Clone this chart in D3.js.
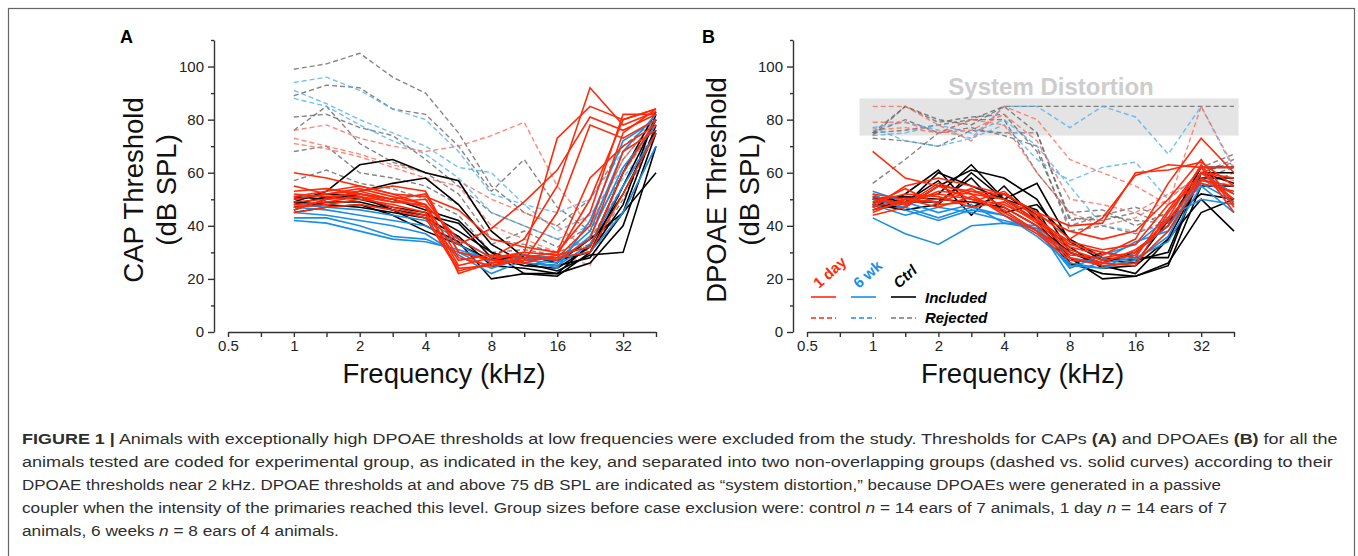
<!DOCTYPE html>
<html><head><meta charset="utf-8">
<script src="https://cdn.jsdelivr.net/npm/d3@7"></script>
<style>
html,body{margin:0;padding:0;background:#fff;}
svg{display:block;font-family:"Liberation Sans",Arial,sans-serif;}
</style></head>
<body><svg id="fig" width="1358" height="556"></svg>
<script>
// ---------- DATA ----------
const freqs = [1, 1.41, 2, 2.83, 4, 5.66, 8, 11.3, 16, 22.6, 32, 45.25];
const xTicks = [0.5, 1, 2, 4, 8, 16, 32];
const xMinorTicks = [0.707, 1.41, 2.83, 5.66, 11.3, 22.6, 45.25];
const yTicks = [0, 20, 40, 60, 80, 100];
const yMinorTicks = [10, 30, 50, 70, 90, 110];
const groupNames = ["1 day", "6 wk", "Ctrl"];
const statusNames = ["Included", "Rejected"];

// Panel A – CAP thresholds
const capCtrlIncluded = [
  [49, 53, 63, 65, 60, 57, 38, 28, 27, 30, 55, 80],
  [46, 50, 53, 56, 58, 48, 33, 26, 25, 28, 45, 78],
  [48, 51, 50, 47, 45, 38, 30, 22, 22, 26, 40, 75],
  [50, 52, 51, 46, 40, 34, 20, 22, 21, 30, 48, 82],
  [47, 49, 49, 46, 44, 41, 28, 25, 24, 32, 60, 83],
  [45, 47, 48, 44, 38, 33, 27, 29, 26, 35, 45, 60],
  [51, 50, 52, 50, 46, 42, 30, 26, 23, 29, 30, 70],
  [49, 48, 47, 45, 43, 36, 25, 24, 22, 33, 52, 76]
];
const capDay1Included = [
  [50, 52, 54, 51, 48, 35, 28, 35, 55, 92, 78, 83],
  [46, 50, 53, 50, 47, 25, 28, 30, 73, 85, 80, 84],
  [52, 51, 52, 49, 50, 33, 39, 49, 61, 81, 76, 82],
  [60, 58, 55, 52, 48, 22, 26, 27, 45, 78, 73, 80],
  [48, 49, 51, 47, 44, 24, 25, 28, 30, 58, 70, 78],
  [47, 48, 50, 48, 45, 27, 29, 28, 28, 40, 75, 84],
  [53, 54, 52, 50, 52, 30, 27, 30, 29, 32, 60, 80],
  [45, 47, 48, 46, 43, 23, 26, 29, 27, 35, 68, 76],
  [51, 53, 55, 52, 51, 46, 35, 32, 30, 45, 82, 82],
  [49, 50, 51, 49, 48, 28, 25, 27, 28, 30, 52, 75],
  [55, 52, 53, 55, 53, 30, 27, 26, 29, 50, 80, 84]
];
const capWk6Included = [
  [42, 41, 38, 35, 34, 31, 27, 26, 25, 33, 55, 75],
  [43, 43, 40, 36, 35, 30, 24, 28, 27, 38, 68, 82],
  [45, 44, 42, 40, 37, 29, 22, 27, 26, 36, 62, 78],
  [47, 46, 44, 42, 40, 33, 26, 28, 24, 42, 72, 80],
  [48, 47, 46, 44, 42, 35, 28, 29, 28, 30, 45, 70]
];
const capCtrlRejected = [
  [99, 101, 105, 96, 90, 75, 55, 45, 40, 50, 70, 80],
  [89, 93, 92, 84, 82, 70, 53, 65, 47, 38, 60, 78],
  [81, 82, 77, 74, 65, 55, 45, 40, 35, 30, 50, 75],
  [76, 85, 71, 64, 60, 52, 35, 33, 30, 35, 55, 76],
  [68, 70, 60, 58, 55, 48, 33, 38, 32, 40, 65, 80],
  [57, 61, 56, 54, 50, 44, 30, 31, 29, 33, 45, 70]
];
const capWk6Rejected = [
  [94, 96, 91, 84, 80, 68, 52, 48, 45, 50, 68, 80],
  [91, 86, 80, 75, 70, 62, 60, 48, 38, 44, 62, 78],
  [88, 85, 78, 72, 67, 58, 45, 40, 35, 40, 58, 75]
];
const capDay1Rejected = [
  [76, 78, 73, 70, 68, 70, 74, 79, 55, 40, 65, 80],
  [73, 70, 67, 63, 60, 57, 50, 45, 40, 30, 60, 78],
  [71, 69, 66, 62, 58, 55, 40, 35, 30, 25, 55, 76]
];

// Panel B – DPOAE thresholds
const dpCtrlIncluded = [
  [48, 47, 55, 61, 58, 50, 30, 25, 22, 35, 50, 38],
  [50, 48, 60, 55, 50, 46, 26, 22, 21, 25, 55, 55],
  [47, 52, 61, 47, 52, 44, 28, 20, 21, 26, 45, 50],
  [49, 49, 49, 58, 45, 48, 35, 28, 27, 30, 60, 56],
  [46, 50, 52, 63, 50, 42, 32, 24, 25, 35, 58, 58],
  [51, 49, 57, 44, 55, 42, 25, 30, 28, 28, 60, 60],
  [48, 46, 48, 60, 50, 56, 34, 27, 26, 42, 52, 50],
  [50, 51, 50, 49, 47, 40, 30, 26, 30, 40, 62, 62]
];
const dpDay1Included = [
  [68, 58, 55, 53, 52, 45, 35, 43, 59, 63, 62, 62],
  [47, 55, 58, 55, 52, 45, 40, 41, 60, 61, 64, 55],
  [45, 50, 52, 50, 48, 42, 32, 29, 35, 56, 73, 60],
  [50, 48, 53, 52, 50, 44, 38, 35, 38, 50, 65, 48],
  [52, 50, 47, 51, 45, 38, 30, 26, 25, 45, 60, 50],
  [46, 49, 50, 54, 47, 40, 29, 28, 30, 42, 58, 52],
  [48, 54, 48, 49, 53, 43, 33, 30, 28, 46, 62, 45],
  [44, 47, 55, 50, 46, 38, 28, 25, 26, 38, 57, 55],
  [49, 52, 51, 47, 49, 41, 31, 27, 29, 43, 63, 47],
  [51, 48, 56, 52, 44, 37, 27, 26, 31, 40, 60, 58],
  [47, 50, 49, 53, 50, 42, 34, 31, 33, 48, 56, 53]
];
const dpWk6Included = [
  [53, 49, 45, 48, 41, 40, 21, 27, 34, 38, 58, 50],
  [43, 37, 33, 40, 41, 39, 24, 29, 33, 43, 50, 48],
  [52, 46, 42, 46, 44, 36, 26, 24, 27, 36, 60, 52],
  [48, 44, 47, 45, 42, 39, 28, 26, 28, 34, 55, 45],
  [50, 47, 43, 47, 44, 38, 25, 24, 30, 40, 56, 49]
];
const dpCtrlRejected = [
  [74, 85, 80, 78, 85, 85, 85, 85, 85, 85, 85, 85],
  [56, 65, 75, 80, 80, 60, 45, 46, 40, 45, 60, 64],
  [75, 76, 78, 80, 85, 75, 42, 44, 42, 41, 62, 67],
  [75, 85, 79, 81, 82, 68, 40, 44, 47, 43, 55, 60],
  [73, 72, 70, 76, 75, 75, 43, 42, 45, 40, 58, 62],
  [75, 80, 75, 77, 74, 70, 38, 40, 37, 42, 60, 65]
];
const dpWk6Rejected = [
  [77, 79, 76, 73, 85, 85, 77, 85, 81, 67, 85, 61],
  [77, 72, 70, 73, 78, 65, 57, 62, 64, 50, 60, 58],
  [74, 75, 78, 75, 80, 70, 55, 40, 38, 40, 55, 55]
];
const dpDay1Rejected = [
  [85, 85, 78, 72, 85, 80, 65, 60, 55, 48, 85, 62],
  [79, 79, 75, 80, 78, 60, 45, 40, 43, 50, 60, 57],
  [76, 77, 75, 76, 82, 72, 50, 48, 45, 52, 58, 55]
];
const distortionBand = [74, 88];        // dB SPL
const distortionFreqs = [0.87, 47.5];    // kHz

const captionLines = [
  [["b","FIGURE 1 |"],["r"," Animals with exceptionally high DPOAE thresholds at low frequencies were excluded from the study. Thresholds for CAPs "],["b","(A)"],["r"," and DPOAEs "],["b","(B)"],["r"," for all the"]],
  [["r","animals tested are coded for experimental group, as indicated in the key, and separated into two non-overlapping groups (dashed vs. solid curves) according to their"]],
  [["r","DPOAE thresholds near 2 kHz. DPOAE thresholds at and above 75 dB SPL are indicated as \u201csystem distortion,\u201d because DPOAEs were generated in a passive"]],
  [["r","coupler when the intensity of the primaries reached this level. Group sizes before case exclusion were: control "],["i","n"],["r"," = 14 ears of 7 animals, 1 day "],["i","n"],["r"," = 14 ears of 7"]],
  [["r","animals, 6 weeks "],["i","n"],["r"," = 8 ears of 4 animals."]]
];
const captionWidths = [1316, 1312, 1200, 1206, null];

// ---------- STYLE ----------
const solidColor = {ctrl: "#000000", day1: "#ff2a0a", wk6: "#1a8fe6"};
const dashColor  = {ctrl: "#666666", day1: "#ff6a5a", wk6: "#4fb0f2"};

const svg = d3.select("#fig");
svg.append("rect").attr("x",8.5).attr("y",8.5).attr("width",1346).attr("height",600)
  .attr("fill","none").attr("stroke","#666").attr("stroke-width",1.2);

function buildSeries(ci, di, wi, cr, dr, wr){
  const out = [];
  cr.forEach(v=>out.push({g:"ctrl",inc:false,v}));
  wr.forEach(v=>out.push({g:"wk6",inc:false,v}));
  dr.forEach(v=>out.push({g:"day1",inc:false,v}));
  ci.forEach(v=>out.push({g:"ctrl",inc:true,v}));
  wi.forEach(v=>out.push({g:"wk6",inc:true,v}));
  di.forEach(v=>out.push({g:"day1",inc:true,v}));
  return out;
}

function drawPanel(o){
  const x = d3.scaleLog().domain([0.5, 45.25]).range(o.xr);
  const y = d3.scaleLinear().domain([0, 110]).range([332, 40]);
  const g = svg.append("g");

  if (o.band){
    g.append("rect").attr("x",x(distortionFreqs[0])).attr("width",x(distortionFreqs[1])-x(distortionFreqs[0]))
      .attr("y",y(distortionBand[1])).attr("height",y(distortionBand[0])-y(distortionBand[1]))
      .attr("fill","#e4e4e4");
    g.append("text").attr("x",(x(distortionFreqs[0])+x(distortionFreqs[1]))/2 + 2).attr("y",95)
      .attr("text-anchor","middle").attr("font-size",24).attr("font-weight","bold").attr("fill","#cdcdcd")
      .text("System Distortion");
  }

  const line = d3.line().x((d,i)=>x(freqs[i])).y(d=>y(d));
  g.selectAll("path.s").data(o.series).join("path").attr("class","s")
    .attr("d",d=>line(d.v)).attr("fill","none")
    .attr("stroke",d=>d.inc?solidColor[d.g]:dashColor[d.g])
    .attr("stroke-width",d=>d.inc?1.6:1.4)
    .attr("stroke-opacity",d=>d.inc?1:0.8)
    .attr("stroke-dasharray",d=>d.inc?null:"5,3");

  // y axis
  const ya = g.append("g").attr("transform",`translate(${o.yx},0)`);
  ya.call(d3.axisLeft(y).tickValues(yTicks).tickSize(6).tickSizeOuter(0).tickPadding(4));
  ya.append("g").call(d3.axisLeft(y).tickValues(yMinorTicks).tickSize(3).tickFormat(""))
    .select(".domain").remove();
  // x axis
  const xa = g.append("g").attr("transform","translate(0,332)");
  xa.call(d3.axisBottom(x).tickValues(xTicks).tickFormat(d=>String(d)).tickSize(5).tickSizeOuter(0).tickPadding(3));
  xa.append("g").call(d3.axisBottom(x).tickValues(xMinorTicks).tickSize(5).tickFormat(""))
    .select(".domain").remove();
  [ya, xa].forEach(a=>{
    a.selectAll("path,line").attr("stroke","#333").attr("stroke-width",1.4);
    a.selectAll("text").attr("font-size",15).attr("fill","#222")
      .attr("font-family","'Liberation Sans',Arial,sans-serif");
  });

  // titles
  g.append("text").attr("x",(o.xr[0]+o.xr[1])/2+2).attr("y",383).attr("text-anchor","middle")
    .attr("font-size",27.5).attr("fill","#111").text("Frequency (kHz)");
  const yt = g.append("text").attr("transform",`translate(${o.ytx},190) rotate(-90)`)
    .attr("text-anchor","middle").attr("font-size",27.5).attr("fill","#111");
  yt.append("tspan").attr("x",0).attr("y",0).text(o.ytitle);
  yt.append("tspan").attr("x",0).attr("y",33).text("(dB SPL)");
  g.append("text").attr("x",o.lx).attr("y",43).attr("font-size",18).attr("font-weight","bold").text(o.label);
  return {x,y,g};
}

drawPanel({xr:[228,656], yx:214, ytx:143, ytitle:"CAP Threshold", lx:120, label:"A",
  series: buildSeries(capCtrlIncluded, capDay1Included, capWk6Included, capCtrlRejected, capDay1Rejected, capWk6Rejected)});
drawPanel({xr:[807,1234], yx:793, ytx:726, ytitle:"DPOAE Threshold", lx:702, label:"B", band:true,
  series: buildSeries(dpCtrlIncluded, dpDay1Included, dpWk6Included, dpCtrlRejected, dpDay1Rejected, dpWk6Rejected)});

// legend
const lg = svg.append("g");
const legendKeys = ["day1","wk6","ctrl"];
const legX = [811, 851, 891];
legendKeys.forEach((k,i)=>{
  lg.append("line").attr("x1",legX[i]).attr("x2",legX[i]+25).attr("y1",297).attr("y2",297)
    .attr("stroke",solidColor[k]).attr("stroke-width",1.6);
  lg.append("line").attr("x1",legX[i]).attr("x2",legX[i]+25).attr("y1",318).attr("y2",318)
    .attr("stroke",k==="ctrl"?"#777":solidColor[k]).attr("stroke-width",1.4).attr("stroke-dasharray","5,3");
  lg.append("text").attr("transform",`translate(${legX[i]+8},289) rotate(-42)`)
    .attr("font-size",15).attr("font-weight","bold").attr("font-style",k==="ctrl"?"italic":"normal")
    .attr("fill",k==="ctrl"?"#000":solidColor[k]).text(groupNames[i]);
});
statusNames.forEach((s,i)=>{
  lg.append("text").attr("x",925).attr("y",303+i*20).attr("font-size",15).attr("font-weight","bold")
    .attr("font-style","italic").attr("fill","#000").text(s);
});

// caption: each line fitted to the reference width; last line uses the previous line's scale
const cap = svg.append("g");
let prevScale = 1;
captionLines.forEach((parts,i)=>{
  const gg = cap.append("g");
  const t = gg.append("text").attr("x",0).attr("y",0).attr("font-size",15).attr("fill","#2e2e2e");
  parts.forEach(p=>{
    const ts = t.append("tspan").text(p[1]);
    if (p[0]==="b") ts.attr("font-weight","bold");
    if (p[0]==="i") ts.attr("font-style","italic");
  });
  const s = captionWidths[i] ? captionWidths[i] / t.node().getComputedTextLength() : prevScale;
  prevScale = s;
  gg.attr("transform",`translate(22,${444+i*23}) scale(${s},1)`);
});
</script></body></html>
